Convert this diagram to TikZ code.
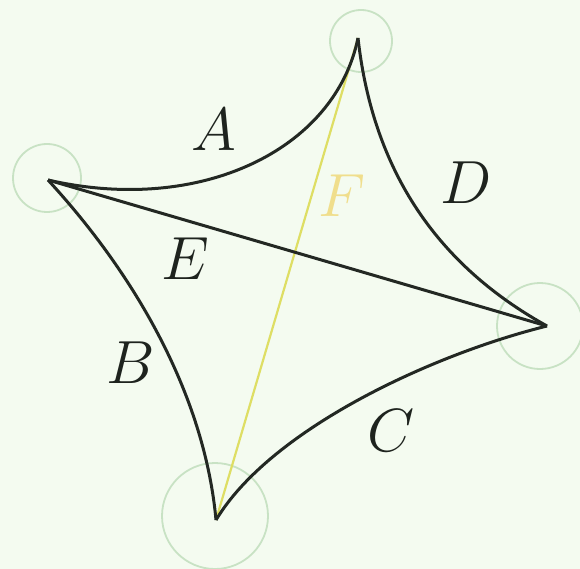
\documentclass[tikz,border=0pt]{standalone}
\begin{document}
\begin{tikzpicture}[x=1pt,y=-1pt,
  ring/.style={draw=ringgreen,line width=1.8pt,circle,inner sep=0pt},
  edge/.style={draw=edgeblack,line width=3pt,line join=round},
  lab/.style={font=\Huge,scale=2.45,transform shape,text=labblack},
  ]
\definecolor{bggreen}{RGB}{244,251,240}
\definecolor{ringgreen}{RGB}{200,226,196}
\definecolor{edgeblack}{RGB}{35,40,35}
\definecolor{labblack}{RGB}{30,35,30}
\definecolor{fyellow}{RGB}{222,222,100}
\definecolor{flabel}{RGB}{240,222,140}
\fill[bggreen] (0,0) rectangle (580,569);
\useasboundingbox (0,0) rectangle (580,569);
% vertices
\coordinate (T) at (358,38);
\coordinate (L) at (48,180);
\coordinate (R) at (547,326);
\coordinate (Bm) at (216,520);
% rings
\node[ring,minimum size=62pt] (cT) at (361,41) {};
\node[ring,minimum size=68pt] (cL) at (47,178) {};
\node[ring,minimum size=86pt] (cR) at (540,326) {};
\node[ring,minimum size=106pt] (cB) at (215,516) {};
% yellow line F
\draw[draw=fyellow,line width=2.2pt] (Bm) -- (T);
% curves
\draw[edge] (L) .. controls (200,215) and (335,150) .. (T);
\draw[edge] (T) .. controls (375,190) and (455,275) .. (R);
\draw[edge] (R) .. controls (430,355) and (270,430) .. (Bm);
\draw[edge] (L) .. controls (140,280) and (205,400) .. (Bm);
\draw[edge] (L) -- (R);
% labels
\node[lab] (lA) at (214,130) {$A$};
\node[lab] (lD) at (466,183) {$D$};
\node[lab,text=flabel] (lF) at (342,196) {$F$};
\node[lab] (lE) at (185,259) {$E$};
\node[lab] (lB) at (131,363) {$B$};
\node[lab] (lC) at (391,431) {$C$};
\end{tikzpicture}
\end{document}
